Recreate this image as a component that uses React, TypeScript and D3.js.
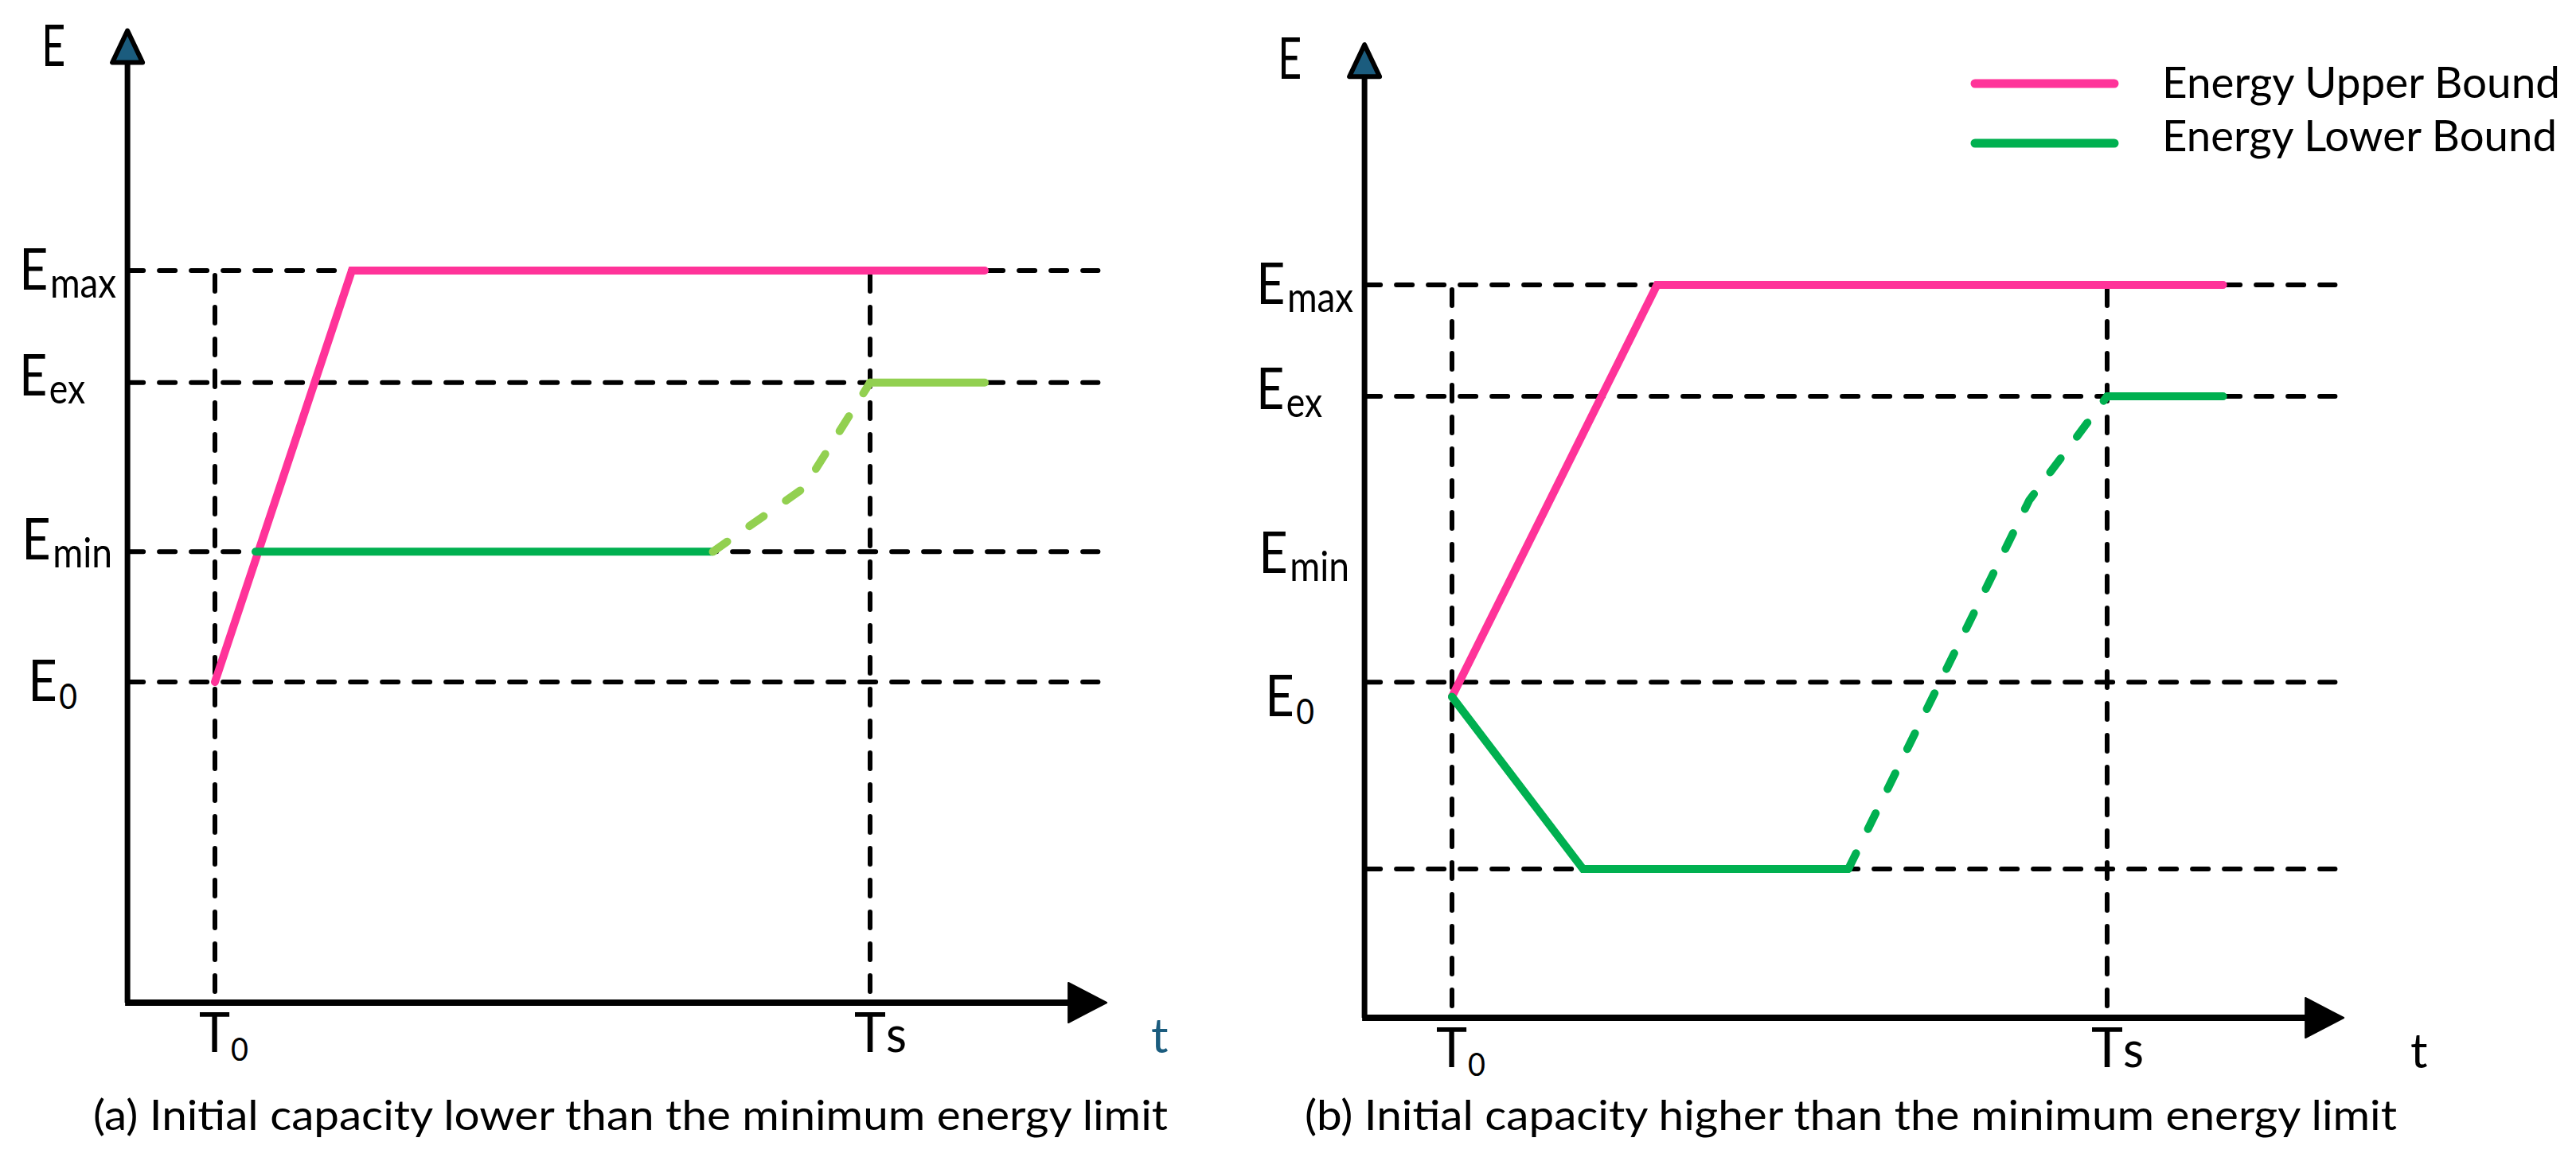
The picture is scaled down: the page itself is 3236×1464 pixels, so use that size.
import React from "react";
import * as d3 from "d3";

// ---------- data (abstract units: time T0 = 0, Ts = 10 ; energy Emax = 10) ----------
const levelNames = ["max", "ex", "min", "0"];
const levelValuesA = [10, 8.47, 6.16, 4.38];
const levelValuesB = [10, 8.48, 6.18, 4.38];
const refLinesA = [10, 8.47, 6.16, 4.38];
const refLinesB = [10, 8.48, 4.58, 2.03];
const timeTicks = [0, 10];
const timeTickMain = ["T", "T"];
const timeTickSub = ["0", "s"];

const upperA_t = [0, 2.09, 11.75];
const upperA_e = [4.38, 10, 10];
const lowerA_t = [0.62, 7.6];
const lowerA_e = [6.16, 6.16];
const lowerDashA_t = [7.6, 8.99, 10];
const lowerDashA_e = [6.16, 7.03, 8.47];
const lowerEndA_t = [10, 11.75];
const lowerEndA_e = [8.47, 8.47];

const upperB_t = [0, 3.13, 11.77];
const upperB_e = [4.38, 10, 10];
const lowerB_t = [0, 2.0, 6.05];
const lowerB_e = [4.38, 2.03, 2.03];
const lowerDashB_t = [6.05, 8.81, 10];
const lowerDashB_e = [2.03, 7.06, 8.48];
const lowerEndB_t = [10, 11.77];
const lowerEndB_e = [8.48, 8.48];

const axisTMin = -1.335;
const axisTMax = 13.61;
const refLineTEnd = 13.48;
const axisEMax = 13.32;

const captions = [
  "(a) Initial capacity lower than the minimum energy limit",
  "(b) Initial capacity higher than the minimum energy limit",
];
const legendLabels = ["Energy Upper Bound", "Energy Lower Bound"];

// ---------- styles ----------
const PINK = "#FF3399";
const GREEN = "#00B050";
const LIGHT_GREEN = "#92D050";
const TEAL = "#1B5C7E";
const FONT = "Lato, 'Open Sans', sans-serif";

const labelDx = [-136, -136, -133, -125];
const labelDy = [24, 16, 10, 24];
const labelLen = [122, 83, 114, 62];
const tLabelLen = [62, 66];

type PanelCfg = {
  x: d3.ScaleLinear<number, number>;
  y: d3.ScaleLinear<number, number>;
  levels: number[];
  refLines: number[];
  upper: [number[], number[]];
  lower: [number[], number[]];
  lowerDash: [number[], number[]];
  lowerEnd: [number[], number[]];
  dashColor: string;
  endColor: string;
  tColor: string;
  caption: string;
  captionX: number;
  captionLen: number;
  eLabelDx: number;
  eLabelBase: number;
  tLabelX: number;
};

function pts(a: [number[], number[]]): [number, number][] {
  return a[0].map((t, i) => [t, a[1][i]]);
}

function Panel({ c }: { c: PanelCfg }) {
  const { x, y } = c;
  const line = d3
    .line<[number, number]>()
    .x((d) => x(d[0]))
    .y((d) => y(d[1]));
  const ax = x(axisTMin);
  const ay = y(0);
  const tipY = y(axisEMax);
  const tipX = x(axisTMax);
  const dash = {
    stroke: "#000",
    strokeWidth: 6,
    strokeDasharray: "20 20",
    strokeLinecap: "round" as const,
    fill: "none",
  };
  return (
    <g>
      {c.refLines.map((v, i) => (
        <line key={"h" + i} x1={ax} x2={x(refLineTEnd)} y1={y(v)} y2={y(v)} {...dash} />
      ))}
      {timeTicks.map((t, i) => (
        <line key={"v" + i} x1={x(t)} x2={x(t)} y1={y(10) + 6} y2={ay} {...dash} />
      ))}
      <line x1={ax} x2={ax} y1={ay} y2={tipY + 44} stroke="#000" strokeWidth={7} />
      <polygon
        points={`${ax},${tipY + 4} ${ax - 19},${tipY + 44} ${ax + 19},${tipY + 44}`}
        fill={TEAL}
        stroke="#000"
        strokeWidth={6}
        strokeLinejoin="round"
      />
      <line x1={ax - 3} x2={tipX - 46} y1={ay} y2={ay} stroke="#000" strokeWidth={8} />
      <polygon
        points={`${tipX - 48},${ay - 25} ${tipX},${ay} ${tipX - 48},${ay + 25}`}
        fill="#000"
        stroke="#000"
        strokeWidth={2}
        strokeLinejoin="round"
      />
      <path d={line(pts(c.upper)) || ""} fill="none" stroke={PINK} strokeWidth={10} strokeLinecap="round" />
      <path d={line(pts(c.lower)) || ""} fill="none" stroke={GREEN} strokeWidth={10} strokeLinecap="round" />
      <path
        d={line(pts(c.lowerDash)) || ""}
        fill="none"
        stroke={c.dashColor}
        strokeWidth={10}
        strokeDasharray="22 34"
        strokeLinecap="round"
      />
      <path d={line(pts(c.lowerEnd)) || ""} fill="none" stroke={c.endColor} strokeWidth={10} strokeLinecap="round" />
      <text
        x={ax + c.eLabelDx}
        y={c.eLabelBase}
        fontFamily={FONT}
        fontSize={71}
        textLength={30}
        lengthAdjust="spacingAndGlyphs"
      >
        E
      </text>
      {levelNames.map((n, i) => (
        <text
          key={"l" + i}
          x={ax + labelDx[i]}
          y={y(c.levels[i]) + labelDy[i]}
          fontFamily={FONT}
          fontSize={71}
          textLength={labelLen[i]}
          lengthAdjust="spacingAndGlyphs"
        >
          E
          <tspan fontSize={n === "0" ? 44 : 52} dy={10} dx={3}>
            {n}
          </tspan>
        </text>
      ))}
      {timeTicks.map((t, i) => (
        <text
          key={"t" + i}
          x={x(t) - 20}
          y={ay + 62}
          fontFamily={FONT}
          fontSize={70}
          textLength={tLabelLen[i]}
          lengthAdjust="spacingAndGlyphs"
        >
          {timeTickMain[i]}
          {timeTickSub[i] === "0" ? (
            <tspan fontSize={40} dy={11} dx={1}>
              0
            </tspan>
          ) : (
            <tspan fontSize={62} dx={0}>
              s
            </tspan>
          )}
        </text>
      ))}
      <text x={c.tLabelX} y={ay + 63} fontFamily={FONT} fontSize={60} fill={c.tColor}>
        t
      </text>
      <text
        x={c.captionX}
        y={1420}
        fontFamily={FONT}
        fontSize={52}
        textLength={c.captionLen}
        lengthAdjust="spacingAndGlyphs"
      >
        {c.caption}
      </text>
    </g>
  );
}

export default function App() {
  const panelA: PanelCfg = {
    x: d3.scaleLinear().domain([0, 10]).range([270, 1093]),
    y: d3.scaleLinear().domain([0, 10]).range([1260, 340]),
    levels: levelValuesA,
    refLines: refLinesA,
    upper: [upperA_t, upperA_e],
    lower: [lowerA_t, lowerA_e],
    lowerDash: [lowerDashA_t, lowerDashA_e],
    lowerEnd: [lowerEndA_t, lowerEndA_e],
    dashColor: LIGHT_GREEN,
    endColor: LIGHT_GREEN,
    tColor: TEAL,
    caption: captions[0],
    captionX: 117,
    captionLen: 1350,
    eLabelDx: -108,
    eLabelBase: 83,
    tLabelX: 1446,
  };
  const panelB: PanelCfg = {
    x: d3.scaleLinear().domain([0, 10]).range([1824, 2647]),
    y: d3.scaleLinear().domain([0, 10]).range([1279, 358]),
    levels: levelValuesB,
    refLines: refLinesB,
    upper: [upperB_t, upperB_e],
    lower: [lowerB_t, lowerB_e],
    lowerDash: [lowerDashB_t, lowerDashB_e],
    lowerEnd: [lowerEndB_t, lowerEndB_e],
    dashColor: GREEN,
    endColor: GREEN,
    tColor: "#000",
    caption: captions[1],
    captionX: 1639,
    captionLen: 1372,
    eLabelDx: -109,
    eLabelBase: 99,
    tLabelX: 3028,
  };
  const legendColors = [PINK, GREEN];
  const legendY = [105, 180];
  return (
    <svg
      width={3236}
      height={1464}
      style={{ position: "absolute", left: 0, top: 0, display: "block", background: "#fff" }}
    >
      <rect width={3236} height={1464} fill="#fff" />
      <Panel c={panelA} />
      <Panel c={panelB} />
      {legendLabels.map((l, i) => (
        <g key={l}>
          <line
            x1={2481}
            x2={2656}
            y1={legendY[i]}
            y2={legendY[i]}
            stroke={legendColors[i]}
            strokeWidth={11}
            strokeLinecap="round"
          />
          <text
            x={2716}
            y={legendY[i] + (i === 0 ? 18 : 10)}
            fontFamily={FONT}
            fontSize={54}
            textLength={i === 0 ? 500 : 496}
            lengthAdjust="spacingAndGlyphs"
          >
            {l}
          </text>
        </g>
      ))}
    </svg>
  );
}
